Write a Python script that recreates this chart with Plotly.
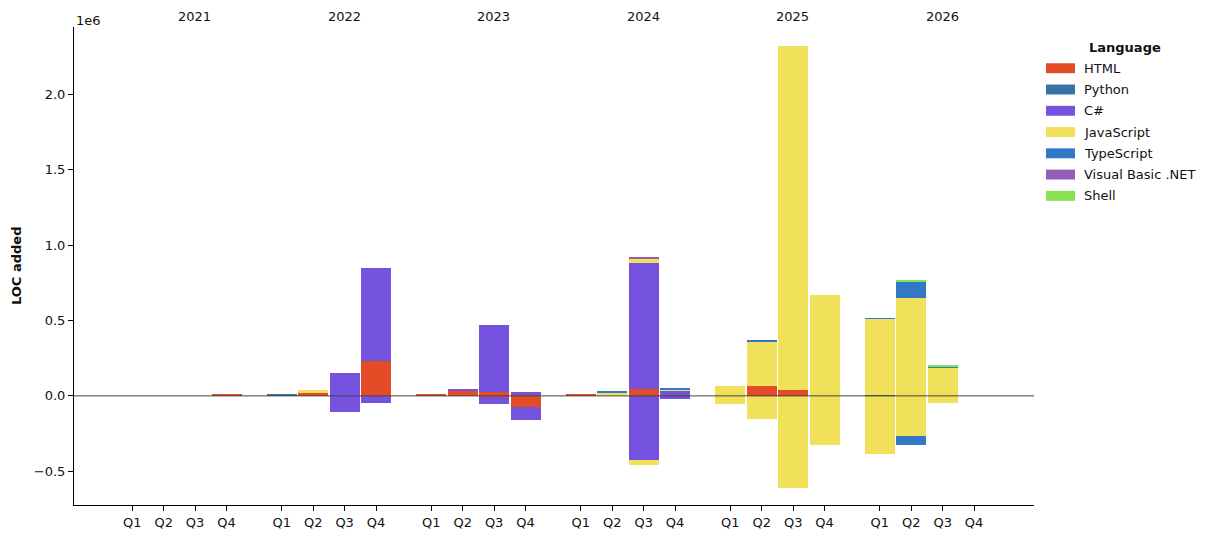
import plotly.graph_objects as go

# ---------------- data ----------------
years = ["2021", "2022", "2023", "2024", "2025", "2026"]
quarters = ["Q1", "Q2", "Q3", "Q4"]
languages = ["HTML", "Python", "C#", "JavaScript", "TypeScript", "Visual Basic .NET", "Shell"]
lang_colors = ["#E34C26", "#3572A5", "#7553DE", "#F1E05A", "#3178C6", "#945DB7", "#89E051"]

#               2021                 2022                          2023                         2024                          2025                              2026
html_added = [0, 0, 0, 8000,        0, 22000, 0, 231000,          15000, 35000, 29000, 7000,   8000, 0, 46000, 0,            0, 68000, 42000, 0,               0, 0, 0, 0]
html_removed = [0, 0, 0, 0,         0, 0, 0, 0,                   0, 0, -10000, -73000,        0, 0, 0, 0,                   0, 0, 0, 0,                       0, 0, 0, 0]
python_added = [0, 0, 0, 0,         8000, 0, 0, 0,                0, 0, 0, 0,                  0, 0, 0, 0,                   0, 0, 0, 0,                       6000, 0, 0, 0]
python_removed = [0, 0, 0, 0,       0, 0, 0, 0,                   0, 0, 0, 0,                  0, 0, 0, 0,                   0, 0, 0, 0,                       0, 0, 0, 0]
csharp_added = [0, 0, 0, 0,         0, 0, 152000, 620000,         0, 13000, 441000, 22000,     0, 0, 834000, 33000,          0, 0, 0, 0,                       0, 0, 0, 0]
csharp_removed = [0, 0, 0, 0,       0, 0, -104000, -44000,        0, 0, -47000, -90000,        0, 0, -425000, -22000,        0, 0, 0, 0,                       0, 0, 0, 0]
js_added = [0, 0, 0, 0,             0, 20000, 0, 0,               0, 0, 0, 0,                  0, 22000, 33000, 9000,        68000, 291000, 2283000, 668000,   505000, 649000, 189000, 0]
js_removed = [0, 0, 0, 0,           0, 0, 0, 0,                   0, 0, 0, 0,                  0, 0, -35000, 0,              -51000, -156000, -612000, -328000, -388000, -269000, -44000, 0]
ts_added = [0, 0, 0, 0,             0, 0, 0, 0,                   0, 0, 0, 0,                  0, 7000, 0, 7000,             0, 6000, 0, 0,                    6000, 112000, 6600, 0]
ts_removed = [0, 0, 0, 0,           0, 0, 0, 0,                   0, 0, 0, 0,                  0, 0, 0, 0,                   0, 0, 0, 0,                       0, -60000, 0, 0]
vbnet_added = [0, 0, 0, 0,          0, 0, 0, 0,                   0, 0, 0, 0,                  0, 0, 6600, 0,                0, 0, 0, 0,                       0, 0, 0, 0]
vbnet_removed = [0, 0, 0, 0,        0, 0, 0, 0,                   0, 0, 0, 0,                  0, 0, 0, 0,                   0, 0, 0, 0,                       0, 0, 0, 0]
shell_added = [0, 0, 0, 0,          0, 0, 0, 0,                   0, 0, 0, 0,                  0, 0, 0, 0,                   0, 0, 0, 0,                       0, 6600, 4000, 0]
shell_removed = [0, 0, 0, 0,        0, 0, 0, 0,                   0, 0, 0, 0,                  0, 0, 0, 0,                   0, 0, 0, 0,                       0, 0, 0, 0]

y_tick_vals = [-500000, 0, 500000, 1000000, 1500000, 2000000]
y_tick_text = ["\u22120.5", "0.0", "0.5", "1.0", "1.5", "2.0"]

added = [html_added, python_added, csharp_added, js_added, ts_added, vbnet_added, shell_added]
removed = [html_removed, python_removed, csharp_removed, js_removed, ts_removed, vbnet_removed, shell_removed]

# ---------------- layout helpers ----------------
W, H = 1221, 542
L, R, T, B = 74, 1034, 27, 508
YEAR_STEP = 4.76
FONT = "DejaVu Sans"

x_pos = [yi * YEAR_STEP + qi for yi in range(len(years)) for qi in range(len(quarters))]
x_lab = [q for _ in years for q in quarters]


def px_x(px):
    return (px - L) / (R - L)


def px_y(py):
    return (B - py) / (B - T)


fig = go.Figure()
for series_set in (added, removed):
    for lang, col, vals in zip(languages, lang_colors, series_set):
        fig.add_trace(go.Bar(
            x=x_pos, y=vals, name=lang, marker=dict(color=col, line=dict(width=0)),
            width=0.955, showlegend=False,
        ))

annotations = []
shapes = []

# zero line above bars
shapes.append(dict(type="line", xref="paper", x0=0, x1=1, yref="y", y0=0, y1=0,
                   line=dict(color="#444444", width=1), layer="above"))

# year labels
for yi, yr in enumerate(years):
    annotations.append(dict(x=yi * YEAR_STEP + 1.98, xref="x", y=px_y(16), yref="paper",
                            text=yr, showarrow=False, xanchor="center", yanchor="middle",
                            font=dict(family=FONT, size=13, color="#111")))

# 1e6 offset label
annotations.append(dict(x=px_x(74), xref="paper", y=px_y(20), yref="paper", text="1e6",
                        showarrow=False, xanchor="left", yanchor="middle",
                        font=dict(family=FONT, size=13, color="#111")))

# y-axis title
annotations.append(dict(x=px_x(16), xref="paper", y=0.5, yref="paper", text="<b>LOC added</b>",
                        textangle=-90, showarrow=False, xanchor="center", yanchor="middle",
                        font=dict(family=FONT, size=13, color="#111")))

# custom legend
annotations.append(dict(x=px_x(1125), xref="paper", y=px_y(47.5), yref="paper", text="<b>Language</b>",
                        showarrow=False, xanchor="center", yanchor="middle",
                        font=dict(family=FONT, size=13, color="#111")))
for i, (lang, col) in enumerate(zip(languages, lang_colors)):
    cy = 68.5 + i * 21.4
    shapes.append(dict(type="rect", xref="paper", yref="paper",
                       x0=px_x(1046), x1=px_x(1075), y0=px_y(cy - 5), y1=px_y(cy + 5),
                       fillcolor=col, line=dict(width=0), layer="above"))
    annotations.append(dict(x=px_x(1082), xref="paper", y=px_y(cy), yref="paper", text=lang,
                            showarrow=False, xanchor="left", yanchor="middle",
                            font=dict(family=FONT, size=13, color="#111")))

fig.update_layout(
    width=W, height=H,
    margin=dict(l=L, r=W - R, t=T, b=H - B, pad=0),
    barmode="relative", bargap=0,
    plot_bgcolor="white", paper_bgcolor="white",
    font=dict(family=FONT, size=13, color="#111"),
    annotations=annotations, shapes=shapes,
    showlegend=False,
)
fig.update_xaxes(
    range=[(L - 132.3) / 31.41, (R - 132.3) / 31.41],
    tickmode="array", tickvals=x_pos, ticktext=x_lab,
    ticks="outside", ticklen=5, tickwidth=1, tickcolor="black",
    showline=True, linecolor="black", linewidth=1,
    showgrid=False, zeroline=False,
    tickfont=dict(family=FONT, size=13, color="#111"),
)
fig.update_yaxes(
    range=[-724300, 2448600],
    tickmode="array", tickvals=y_tick_vals, ticktext=y_tick_text,
    ticks="outside", ticklen=5, tickwidth=1, tickcolor="black",
    showline=True, linecolor="black", linewidth=1,
    showgrid=False, zeroline=False,
    tickfont=dict(family=FONT, size=13, color="#111"),
)

fig.write_html("out.html")
